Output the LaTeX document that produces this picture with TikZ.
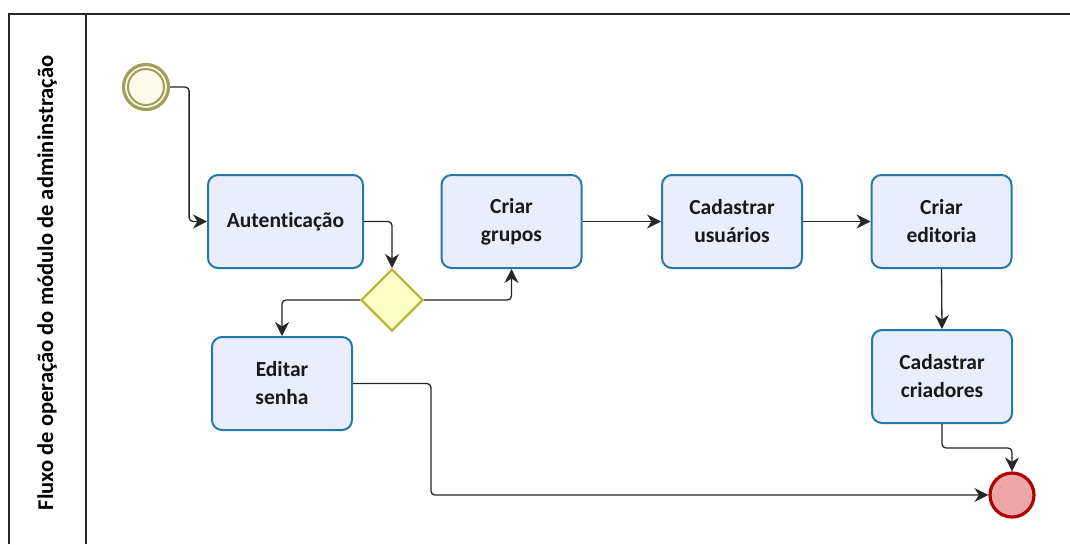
\documentclass[tikz,border=0pt]{standalone}
\usepackage{fontspec}
\setmainfont{Carlito}[Ligatures=CommonOff]
\usetikzlibrary{arrows.meta,shapes.geometric}
\definecolor{taskline}{HTML}{2479A9}
\definecolor{taskfill}{HTML}{E9EDFC}
\definecolor{gwline}{HTML}{B3B02C}
\definecolor{gwfill}{HTML}{FDFDC6}
\definecolor{startline}{HTML}{A29E5C}
\definecolor{startfill}{HTML}{FFFAEA}
\definecolor{endline}{HTML}{B00000}
\definecolor{endfill}{HTML}{ECA6A6}
\tikzset{
  taskbox/.style={rectangle, rounded corners=10pt, draw=taskline, fill=taskfill,
    line width=2pt, minimum width=140pt, minimum height=93pt, align=center,
    font=\fontsize{21.5}{28}\selectfont\bfseries, text=black!90},
  gateway/.style={diamond, draw=gwline, fill=gwfill, line width=2pt,
    minimum width=62pt, minimum height=62pt, inner sep=0pt},
  flow/.style={draw=black!85, line width=1.3pt, rounded corners=4pt,
    -{Stealth[length=14pt,width=14pt,inset=4.5pt]}},
  laneline/.style={draw=black!85, line width=1.2pt}
}
\begin{document}
\begin{tikzpicture}[x=1pt,y=-1pt]
\useasboundingbox (0,0) rectangle (1070,544);
\fill[white] (0,0) rectangle (1070,544);

% pool and lane header
\draw[laneline] (9,544) -- (9,14) -- (1070,14);
\draw[laneline] (86,14) -- (86,544);
\node[rotate=90, font=\fontsize{22.5}{24}\selectfont\bfseries] (lane) at (47,283)
  {Fluxo de operação do módulo de admininstração};

% events
\node[circle, draw=startline, line width=3.2pt, fill=startfill, minimum size=45pt,
  inner sep=0pt] (start) at (146,87) {};
\draw[startline, line width=2pt] (start.center) circle (18pt);
\node[circle, draw=endline, line width=3.2pt, fill=endfill, minimum size=44pt,
  inner sep=0pt] (end) at (1012,495) {};

% tasks
\node[taskbox, minimum width=155pt] (auth) at (285.5,221.5) {Autenticação};
\node[taskbox] (grupos) at (511.5,221.5) {Criar\\grupos};
\node[taskbox] (usuarios) at (732,221.5) {Cadastrar\\usuários};
\node[taskbox] (editoria) at (941.5,221.5) {Criar\\editoria};
\node[taskbox] (criadores) at (942,376.5) {Cadastrar\\criadores};
\node[taskbox] (senha) at (282,383.5) {Editar\\senha};

% gateway
\node[gateway] (gw) at (392,300) {};

% sequence flows
\draw[flow] (start.east) -- ++(19,0) |- (auth.west);
\draw[flow] (auth.east) -| (gw.north);
\draw[flow] (gw.east) -| (grupos.south);
\draw[flow] (gw.west) -| (senha.north);
\draw[flow] (grupos.east) -- (usuarios.west);
\draw[flow] (usuarios.east) -- (editoria.west);
\draw[flow] (editoria.south) -- (criadores.north);
\draw[flow] (criadores.south) -- ++(0,24) -| (end.north);
\draw[flow] (senha.east) -- ++(78,0) |- (end.west);
\end{tikzpicture}
\end{document}
